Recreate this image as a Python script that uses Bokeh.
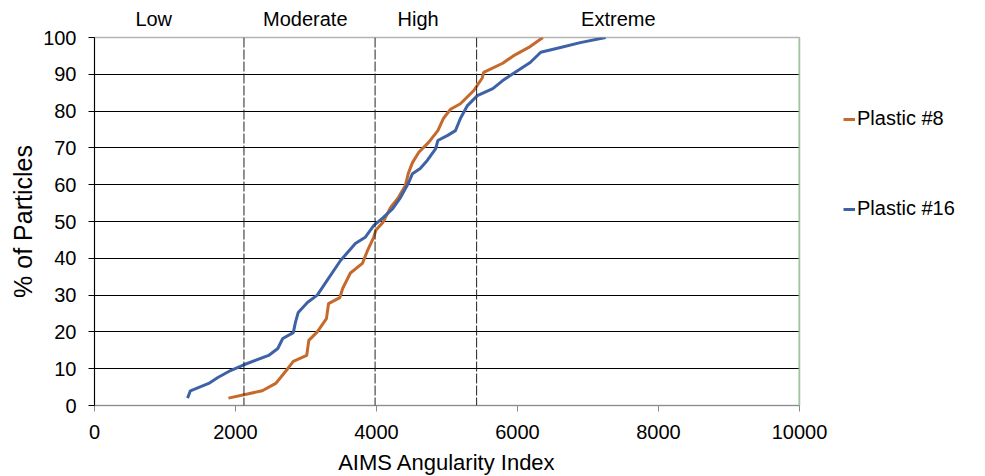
from bokeh.plotting import figure
from bokeh.models import Legend, LegendItem, FixedTicker, Range1d, LinearAxis, Span
from bokeh.embed import file_html
from bokeh.resources import INLINE

# ---- data ----
p8_x = [1900, 2380, 2570, 2640, 2740, 2820, 3010, 3040, 3160, 3290, 3320, 3480, 3520, 3630,
        3800, 3870, 3960, 3990, 4090, 4200, 4310, 4410, 4450, 4510, 4600, 4740, 4870, 4950,
        5050, 5190, 5380, 5500, 5520, 5790, 5940, 6160, 6360]
p8_y = [2, 4, 6, 7.6, 10, 12, 13.6, 17.7, 20, 23.6, 27.7, 29.3, 31.8, 36,
        38.6, 42, 45.7, 47.6, 49.7, 53.8, 56.5, 59.8, 63, 66, 68.8, 71.5, 74.7, 78,
        80.5, 82, 85.6, 89, 90.5, 93, 95, 97.3, 100]

p16_x = [1320, 1360, 1620, 1750, 1930, 2110, 2470, 2600, 2670, 2820, 2850, 2890, 3020, 3160,
         3300, 3490, 3700, 3840, 3960, 4090, 4230, 4340, 4450, 4510, 4620, 4720, 4840, 4870,
         5010, 5120, 5190, 5290, 5430, 5650, 5790, 5940, 6180, 6330, 6610, 6890, 7250]
p16_y = [2, 4, 6, 7.6, 9.5, 11, 13.6, 15.5, 18.2, 19.8, 22.6, 25.3, 28, 30,
         34, 39.4, 44, 45.7, 48.9, 51, 53.5, 56.5, 60.3, 63, 64.4, 66.6, 69.8, 72,
         73.4, 74.7, 78, 81.5, 84.2, 86.1, 88.3, 90.2, 93.2, 96, 97.3, 98.6, 100]

series_names = ["Plastic #8", "Plastic #16"]
class_names = ["Low", "Moderate", "High", "Extreme"]
class_bounds = [2120, 3980, 5420]
x_ticks = [0, 2000, 4000, 6000, 8000, 10000]
y_ticks = [0, 10, 20, 30, 40, 50, 60, 70, 80, 90, 100]
X_MAX = 10000
Y_MAX = 100

# ---- styling / layout ----
FONT = "Liberation Sans"
ORANGE = "#C5692C"
BLUE = "#3E62A6"

p = figure(frame_width=705, frame_height=368, output_backend="svg", toolbar_location=None,
           x_range=Range1d(0, X_MAX), y_range=Range1d(0, Y_MAX),
           min_border_left=94, min_border_right=170, min_border_top=37, min_border_bottom=71)

p.outline_line_color = "#b4b4b4"
p.outline_line_width = 1.5
p.xgrid.visible = False
p.ygrid.ticker = FixedTicker(ticks=y_ticks[1:-1])
p.ygrid.grid_line_color = "black"
p.ygrid.grid_line_width = 1

p.xaxis.ticker = FixedTicker(ticks=x_ticks)
p.yaxis.ticker = FixedTicker(ticks=y_ticks)
p.xaxis.minor_tick_line_color = None
p.yaxis.minor_tick_line_color = None
for ax in (p.xaxis, p.yaxis):
    ax.major_tick_in = 0
    ax.major_tick_out = 6
    ax.major_label_text_font = FONT
    ax.major_label_text_font_size = "20px"
    ax.major_label_text_color = "black"
    ax.axis_label_text_font = FONT
    ax.axis_label_text_font_style = "normal"
    ax.axis_label_text_color = "black"
p.xaxis.axis_line_color = "#8a8a8a"
p.xaxis.major_tick_line_color = "#8a8a8a"
p.yaxis.axis_line_color = "black"
p.yaxis.major_tick_line_color = "black"
p.xaxis.major_label_standoff = 13
p.yaxis.major_label_standoff = 12
p.xaxis.axis_label = "AIMS Angularity Index"
p.xaxis.axis_label_text_font_size = "22px"
p.xaxis.axis_label_standoff = 8
p.yaxis.axis_label = "% of Particles"
p.yaxis.axis_label_text_font_size = "25px"
p.yaxis.axis_label_standoff = 3

# class names as an axis above the plot (label positions only)
label_x = [840, 2990, 4590, 7430]
top_axis = LinearAxis(ticker=FixedTicker(ticks=label_x),
                      major_label_overrides={x: n for x, n in zip(label_x, class_names)},
                      axis_line_color=None, major_tick_line_color=None,
                      minor_tick_line_color=None, major_tick_out=0, major_tick_in=0,
                      major_label_standoff=8, major_label_text_font=FONT,
                      major_label_text_font_size="20px", major_label_text_color="black")
p.add_layout(top_axis, "above")

# right border (green)
p.add_layout(Span(location=X_MAX, dimension="height", line_color="#9ccf9c", line_width=2))

# class boundary lines
for b in class_bounds:
    p.add_layout(Span(location=b, dimension="height", line_color="#222222",
                      line_width=1, line_dash="10 2"))

r8 = p.line(p8_x, p8_y, line_color=ORANGE, line_width=3)
r16 = p.line(p16_x, p16_y, line_color=BLUE, line_width=3)

legend = Legend(items=[LegendItem(label=series_names[0], renderers=[r8]),
                       LegendItem(label=series_names[1], renderers=[r16])],
                location=(44, 185), orientation="vertical",
                glyph_width=12, glyph_height=20, label_height=20, label_standoff=2,
                spacing=67, padding=0, margin=0,
                label_text_font=FONT, label_text_font_size="20px", label_text_color="black",
                border_line_alpha=0, background_fill_alpha=0)
p.add_layout(legend, "right")

open("out.html", "w").write(file_html(p, INLINE))
